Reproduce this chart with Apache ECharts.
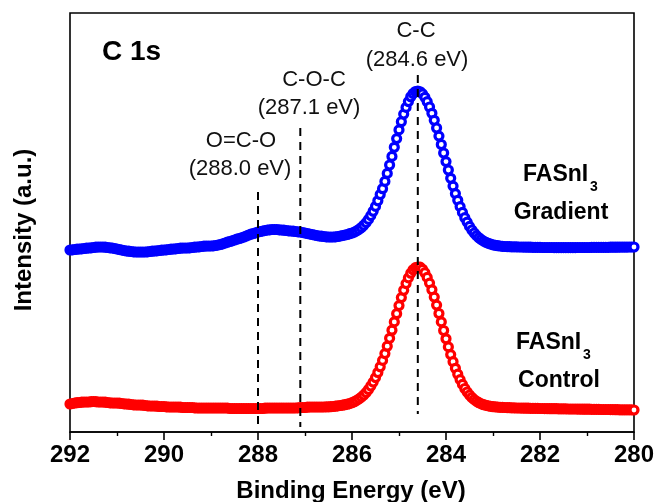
<!DOCTYPE html>
<html>
<head>
<meta charset="utf-8">
<script src="https://cdn.jsdelivr.net/npm/echarts@6/dist/echarts.min.js"></script>
<style>
html,body{margin:0;padding:0;background:#fff;}
#c{width:656px;height:502px;}
</style>
</head>
<body>
<div id="c"></div>
<script>
// Binding energy sampling (eV), 0.05 eV steps
const energy = [
292.00,291.95,291.90,291.85,291.80,291.75,291.70,291.65,291.60,291.55,
291.50,291.45,291.40,291.35,291.30,291.25,291.20,291.15,291.10,291.05,
291.00,290.95,290.90,290.85,290.80,290.75,290.70,290.65,290.60,290.55,
290.50,290.45,290.40,290.35,290.30,290.25,290.20,290.15,290.10,290.05,
290.00,289.95,289.90,289.85,289.80,289.75,289.70,289.65,289.60,289.55,
289.50,289.45,289.40,289.35,289.30,289.25,289.20,289.15,289.10,289.05,
289.00,288.95,288.90,288.85,288.80,288.75,288.70,288.65,288.60,288.55,
288.50,288.45,288.40,288.35,288.30,288.25,288.20,288.15,288.10,288.05,
288.00,287.95,287.90,287.85,287.80,287.75,287.70,287.65,287.60,287.55,
287.50,287.45,287.40,287.35,287.30,287.25,287.20,287.15,287.10,287.05,
287.00,286.95,286.90,286.85,286.80,286.75,286.70,286.65,286.60,286.55,
286.50,286.45,286.40,286.35,286.30,286.25,286.20,286.15,286.10,286.05,
286.00,285.95,285.90,285.85,285.80,285.75,285.70,285.65,285.60,285.55,
285.50,285.45,285.40,285.35,285.30,285.25,285.20,285.15,285.10,285.05,
285.00,284.95,284.90,284.85,284.80,284.75,284.70,284.65,284.60,284.55,
284.50,284.45,284.40,284.35,284.30,284.25,284.20,284.15,284.10,284.05,
284.00,283.95,283.90,283.85,283.80,283.75,283.70,283.65,283.60,283.55,
283.50,283.45,283.40,283.35,283.30,283.25,283.20,283.15,283.10,283.05,
283.00,282.95,282.90,282.85,282.80,282.75,282.70,282.65,282.60,282.55,
282.50,282.45,282.40,282.35,282.30,282.25,282.20,282.15,282.10,282.05,
282.00,281.95,281.90,281.85,281.80,281.75,281.70,281.65,281.60,281.55,
281.50,281.45,281.40,281.35,281.30,281.25,281.20,281.15,281.10,281.05,
281.00,280.95,280.90,280.85,280.80,280.75,280.70,280.65,280.60,280.55,
280.50,280.45,280.40,280.35,280.30,280.25,280.20,280.15,280.10,280.05,
280.00
];

// FASnI3 Control (red), intensity (a.u.)
const controlIntensity = [
28,28.5,29,29.3,29.5,29.8,30,30,30,30.3,
30.5,30.3,30,30,30,29.8,29.5,29.2,29,29,
29,28.8,28.5,28.2,28,27.8,27.5,27.2,27,27,
27,26.8,26.5,26.2,26,26,26,25.8,25.5,25.5,
25.5,25.2,25,25,25,25,25,24.8,24.5,24.5,
24.5,24.5,24.5,24.2,24,24,24,24,24,24,
24,24,24,24,24,24,24,24,23.5,23.5,
23.5,23.5,23.5,23.5,23.5,23.5,23.5,23.5,23.5,23.5,
23.5,23.5,23.5,23.8,24,24,24,24,24,24,
24,24,24,24,24,24,24,24.2,24.5,24.5,
24.5,24.8,25,25,25,25,25,25,25,25.1,
25.2,25.3,25.5,25.8,26.2,26.5,26.8,27.3,27.8,28.4,
29.3,30.3,31.6,33.1,34.9,37,39.5,42.5,46,49.9,
54.4,59.5,65.2,71.6,78.4,85.8,93.7,101.8,110.1,118.3,
126.4,134.4,141.7,148.4,154.1,158.8,162.2,164.3,165,164.8,
162.7,159.3,154.6,148.9,142.2,134.9,126.9,118.5,110.1,101.5,
93.2,85.1,77.4,70.3,63.7,57.8,52.4,47.6,43.5,40.0,
37.0,34.5,32.4,30.7,29.3,28.2,27.3,26.6,26.1,25.6,
25.3,25.1,24.9,24.7,24.6,24.5,24.4,24.3,24.2,24.1,
24,24,23.9,23.9,23.8,23.8,23.7,23.7,23.6,23.6,
23.5,23.5,23.4,23.4,23.3,23.3,23.3,23.3,23.2,23.2,
23.1,23.1,23,23,23,23,22.9,22.9,22.8,22.8,
22.8,22.8,22.7,22.7,22.6,22.6,22.5,22.5,22.5,22.5,
22.4,22.4,22.3,22.3,22.2,22.2,22.2,22.2,22.1,22.1,
22
];

// FASnI3 Gradient (blue), intensity (a.u.)
const gradientIntensity = [
182,182.2,182.5,182.8,183,183.2,183.5,183.8,184,184.2,
184.5,184.8,185,185,185,184.8,184.5,184.2,184,183.5,
183,182.5,182,181.5,181,180.8,180.5,180.2,180,180,
180,180,180,180.2,180.5,180.8,181,181.2,181.5,181.8,
182,182.2,182.5,182.8,183,183.2,183.5,183.8,184,184,
184,184.2,184.5,184.8,185,185.2,185.5,185.8,186,186,
186,186.2,186.5,187,187.5,188.2,189,189.8,190.5,191.2,
192,192.8,193.5,194.2,195,196,197,197.8,198.5,199.2,
200,200.5,201,201.5,202,202.2,202.5,202.5,202.5,202.2,
202,201.8,201.5,201.2,201,200.8,200.5,200.2,200,199.5,
199,198.5,198,197.5,197,196.5,196,195.8,195.5,195.2,
195,195,195,195.2,195.5,196,196.5,197,197.5,198.3,
199.0,199.9,201.1,202.6,204.5,206.7,209.4,212.6,216.4,220.7,
225.6,231.2,237.5,243.3,250.6,258.6,267.0,275.6,284.7,293.4,
302.1,310.3,317.9,324.6,330.4,335.2,338.5,340.5,341,340.2,
338.1,334.7,330.3,325.0,318.7,311.7,304.0,295.9,287.5,279.0,
270.4,262.0,253.7,245.9,238.4,231.7,225.4,219.6,214.3,209.9,
205.6,202.0,199.0,196.4,194.2,192.4,190.9,189.7,188.7,187.9,
187.2,186.7,186.3,186,185.7,185.5,185.4,185.3,185.2,185.1,
185.1,185,185,184.9,184.9,184.8,184.8,184.7,184.7,184.6,
184.6,184.5,184.5,184.5,184.5,184.5,184.4,184.4,184.4,184.4,
184.4,184.4,184.4,184.4,184.4,184.4,184.5,184.5,184.5,184.5,
184.5,184.5,184.6,184.6,184.6,184.6,184.7,184.7,184.7,184.7,
184.8,184.8,184.8,184.8,184.9,184.9,184.9,184.9,185,185,
185
];

// Reference peak positions (eV) and dashed-line extents (a.u.)
const peakNames = ['O=C-O', 'C-O-C', 'C-C'];
const peakEnergy = [288.0, 287.1, 284.6];
const peakLineTop = [240, 304, 357];
const peakLineBottom = [5, 5, 18];

const xMin = 280, xMax = 292, xStep = 2;
const yMin = 0, yMax = 419;

const FONT = 'Arial, "Liberation Sans", Helvetica, sans-serif';

const chart = echarts.init(document.getElementById('c'), null, {renderer: 'canvas'});

function pairs(xs, ys) { return xs.map((x, i) => [x, ys[i]]); }

const dashSeries = peakEnergy.map((e, i) => ({
  type: 'line',
  name: peakNames[i],
  data: [[e, peakLineTop[i]], [e, peakLineBottom[i]]],
  showSymbol: false,
  symbol: 'none',
  lineStyle: {color: '#000', width: 2, type: [8, 6]},
  z: 10,
  silent: true
}));

function ringSeries(name, values, color) {
  return {
    type: 'scatter', name: name, data: pairs(energy, values),
    symbol: 'circle', symbolSize: 8,
    itemStyle: {color: '#ffffff', borderColor: color, borderWidth: 3.2, opacity: 1},
    z: 2, silent: true
  };
}

const option = {
  animation: false,
  backgroundColor: '#fff',
  grid: {
    left: 70, right: 22, top: 13, bottom: 70,
    show: true, borderColor: '#000', borderWidth: 1.6,
    containLabel: false, outerBoundsMode: 'none'
  },
  xAxis: {
    type: 'value', min: xMin, max: xMax, interval: xStep, inverse: true,
    axisLine: {show: true, lineStyle: {color: '#000', width: 1.6}},
    axisTick: {show: true, inside: false, length: 8, lineStyle: {color: '#000', width: 1.6}},
    minorTick: {show: true, splitNumber: 2, length: 4, lineStyle: {color: '#000', width: 1.4}},
    axisLabel: {show: true, margin: 11, color: '#000', fontSize: 24, fontWeight: 'bold', fontFamily: FONT},
    splitLine: {show: false}
  },
  yAxis: {
    type: 'value', min: yMin, max: yMax,
    axisLine: {show: false}, axisTick: {show: false}, axisLabel: {show: false}, splitLine: {show: false}
  },
  series: [
    ringSeries('FASnI3 Gradient', gradientIntensity, '#0000ff'),
    ringSeries('FASnI3 Control', controlIntensity, '#ff0000')
  ].concat(dashSeries),
  graphic: [
    {type: 'text', x: 102, y: 52, style: {text: 'C 1s', font: 'bold 28px ' + FONT, fill: '#000', textAlign: 'left', textVerticalAlign: 'middle'}},
    {type: 'text', x: 416, y: 31, style: {text: 'C-C', font: '22px ' + FONT, fill: '#111', textAlign: 'center', textVerticalAlign: 'middle'}},
    {type: 'text', x: 417, y: 60, style: {text: '(284.6 eV)', font: '22px ' + FONT, fill: '#111', textAlign: 'center', textVerticalAlign: 'middle'}},
    {type: 'text', x: 314, y: 80, style: {text: 'C-O-C', font: '22px ' + FONT, fill: '#111', textAlign: 'center', textVerticalAlign: 'middle'}},
    {type: 'text', x: 309, y: 108, style: {text: '(287.1 eV)', font: '22px ' + FONT, fill: '#111', textAlign: 'center', textVerticalAlign: 'middle'}},
    {type: 'text', x: 241, y: 141, style: {text: 'O=C-O', font: '22px ' + FONT, fill: '#111', textAlign: 'center', textVerticalAlign: 'middle'}},
    {type: 'text', x: 240, y: 169, style: {text: '(288.0 eV)', font: '22px ' + FONT, fill: '#111', textAlign: 'center', textVerticalAlign: 'middle'}},
    {type: 'text', x: 523, y: 175, style: {text: 'FASnI', font: 'bold 23px ' + FONT, fill: '#000', textAlign: 'left', textVerticalAlign: 'middle'}},
    {type: 'text', x: 590, y: 187, style: {text: '3', font: 'bold 14px ' + FONT, fill: '#000', textAlign: 'left', textVerticalAlign: 'middle'}},
    {type: 'text', x: 561, y: 213, style: {text: 'Gradient', font: 'bold 23px ' + FONT, fill: '#000', textAlign: 'center', textVerticalAlign: 'middle'}},
    {type: 'text', x: 516, y: 343, style: {text: 'FASnI', font: 'bold 23px ' + FONT, fill: '#000', textAlign: 'left', textVerticalAlign: 'middle'}},
    {type: 'text', x: 583, y: 355, style: {text: '3', font: 'bold 14px ' + FONT, fill: '#000', textAlign: 'left', textVerticalAlign: 'middle'}},
    {type: 'text', x: 559, y: 381, style: {text: 'Control', font: 'bold 23px ' + FONT, fill: '#000', textAlign: 'center', textVerticalAlign: 'middle'}},
    {type: 'text', x: 351, y: 491, style: {text: 'Binding Energy (eV)', font: 'bold 24px ' + FONT, fill: '#000', textAlign: 'center', textVerticalAlign: 'middle'}},
    {type: 'text', x: 24, y: 230, rotation: Math.PI / 2, style: {text: 'Intensity (a.u.)', font: 'bold 24px ' + FONT, fill: '#000', textAlign: 'center', textVerticalAlign: 'middle'}}
  ]
};

chart.setOption(option);
</script>
</body>
</html>
